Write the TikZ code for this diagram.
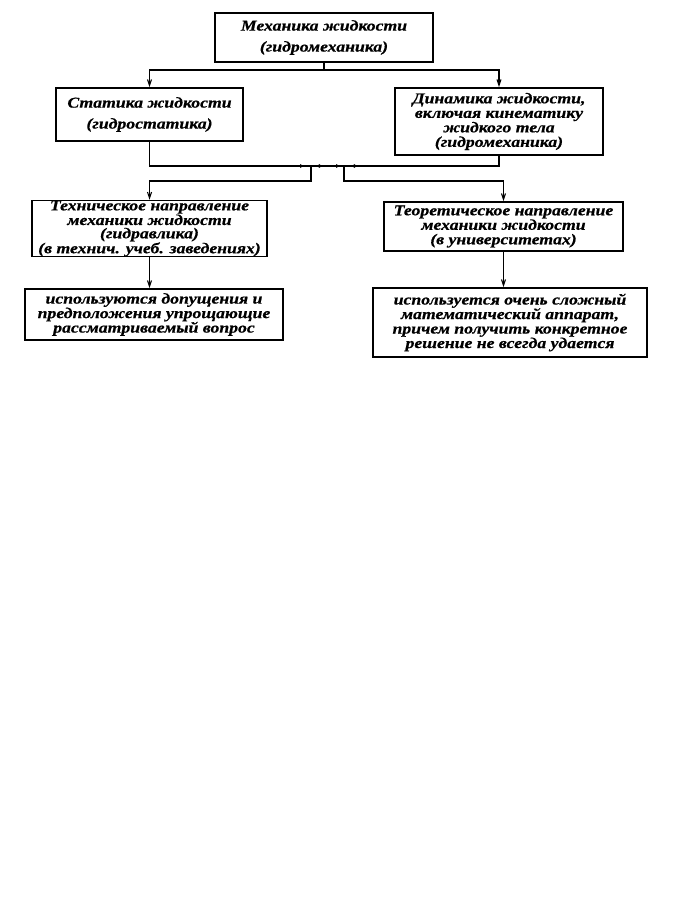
\documentclass[tikz,border=0pt]{standalone}
\usepackage{fontspec}
\setmainfont{Liberation Serif}
\newfontfamily\widefont[FakeStretch=1.18,FakeBold=0.6]{Liberation Serif}
\usetikzlibrary{arrows.meta}
\begin{document}
\begin{tikzpicture}[x=1pt,y=-1pt,
  box/.style={draw,line width=1.6pt,inner sep=0pt,align=center,
    font=\widefont\bfseries\itshape\fontsize{15}{14.5}\selectfont},
  loose/.style={font=\widefont\bfseries\itshape\fontsize{15}{21}\selectfont},
  tight/.style={font=\widefont\bfseries\itshape\fontsize{15}{13.3}\selectfont},
  conn/.style={line width=1.1pt},
  arr/.style={conn,-{Straight Barb[length=6pt,width=4pt]}},
  tip/.style={line width=1.4pt,-{Latex[length=5pt,width=4pt]}}]
\useasboundingbox[fill=white] (0,0) rectangle (680,909);

\node[box,loose,minimum width=218,minimum height=49] (top) at (324,37.5)
  {Механика жидкости\\(гидромеханика)};
\node[box,loose,minimum width=187,minimum height=53] (stat) at (149.5,114.5)
  {Статика жидкости\\(гидростатика)};
\node[box,minimum width=208,minimum height=67] (dyn) at (499,121.5)
  {Динамика жидкости,\\включая кинематику\\жидкого тела\\(гидромеханика)};
\node[box,tight,minimum width=235,minimum height=54] (tech) at (149.5,228.5)
  {Техническое направление\\механики жидкости\\(гидравлика)\\(в технич. учеб. заведениях)};
\node[box,minimum width=239,minimum height=49] (theo) at (503.5,226.5)
  {Теоретическое направление\\механики жидкости\\(в университетах)};
\node[box,minimum width=258,minimum height=51] (simp) at (154,314.5)
  {используются допущения и\\предположения упрощающие\\рассматриваемый вопрос};
\node[box,minimum width=274,minimum height=69] (comp) at (510,322.5)
  {используется очень сложный\\математический аппарат,\\причем получить конкретное\\решение не всегда удается};

% top split
\coordinate (j1) at (top.south |- 0,70);
\draw[conn] (top.south) -- (j1);
\draw[arr] (j1) -| (stat.north);
\draw[arr] (j1) -| (dyn.north);

% merge line
\coordinate (m) at (327,166);
\coordinate (ml) at (311,166);
\coordinate (mr) at (344,166);
\draw[conn] (stat.south) |- (m);
\draw[conn] (dyn.south) |- (m);
\draw[arr] (ml) -- (311,181) -| (tech.north);
\draw[arr] (mr) -- (344,181) -| (theo.north);

% small tips on merge line
\coordinate (t1a) at (296,166); \coordinate (t1b) at (305,166);
\coordinate (t2a) at (324,166); \coordinate (t2b) at (315,166);
\coordinate (t3a) at (332,166); \coordinate (t3b) at (341,166);
\coordinate (t4a) at (359,166); \coordinate (t4b) at (350,166);
\draw[tip] (t1a) -- (t1b);
\draw[tip] (t2a) -- (t2b);
\draw[tip] (t3a) -- (t3b);
\draw[tip] (t4a) -- (t4b);

% lower arrows
\draw[arr] (tech.south) -- (simp.north -| tech.south);
\draw[arr] (theo.south) -- (comp.north -| theo.south);
\end{tikzpicture}
\end{document}
